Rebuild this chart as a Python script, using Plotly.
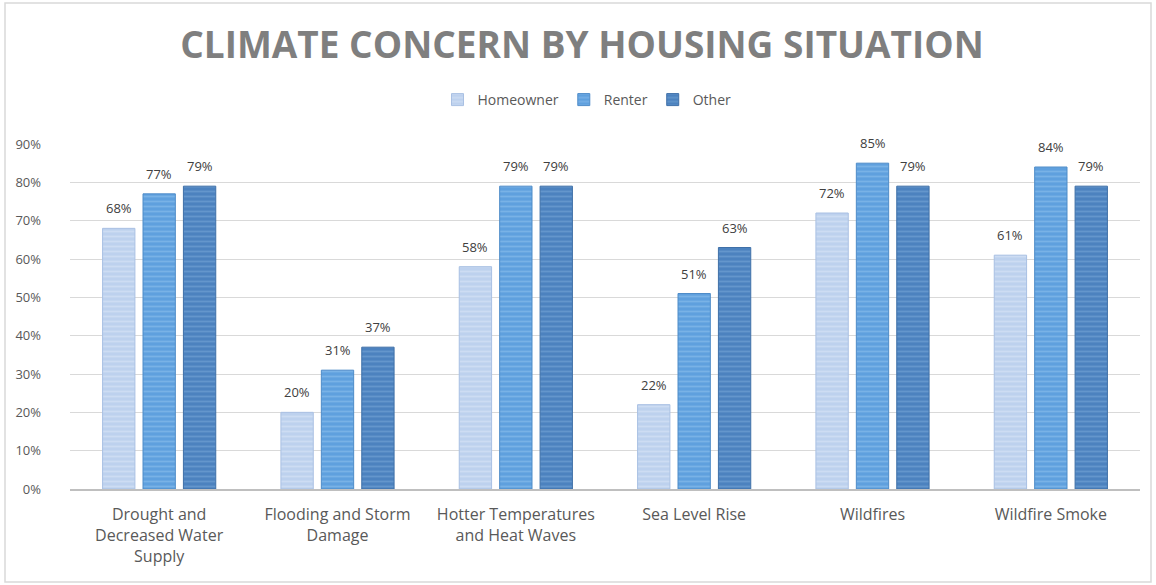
import plotly.graph_objects as go

categories = [
    "Drought and<br>Decreased Water<br>Supply",
    "Flooding and Storm<br>Damage",
    "Hotter Temperatures<br>and Heat Waves",
    "Sea Level Rise",
    "Wildfires",
    "Wildfire Smoke",
]
homeowner = [68, 20, 58, 22, 72, 61]
renter = [77, 31, 79, 51, 85, 84]
other = [79, 37, 79, 63, 79, 79]
y_ticks = [0, 10, 20, 30, 40, 50, 60, 70, 80, 90]

series = [
    ("Homeowner", homeowner, "#bdd1ee", "#dde8f7", "#a9c0e3"),
    ("Renter", renter, "#5fa0de", "#93c3ee", "#4f8cc8"),
    ("Other", other, "#4c82bf", "#7caada", "#3f70a8"),
]

FONT = "Open Sans, sans-serif"

# plot area geometry in pixels
W, H = 1156, 585
ml, mr, mt, mb = 70, 16, 144, 96
pw, ph = W - ml - mr, H - mt - mb
BARGAP = 0.32

def px_x(x):
    return (x - ml) / pw

def px_y(y):
    return (H - mb - y) / ph

fig = go.Figure()
for name, vals, base, stripe, edge in series:
    fig.add_trace(go.Bar(
        name=name,
        x=categories,
        y=vals,
        marker=dict(
            color=base,
            line=dict(color=edge, width=1),
            pattern=dict(shape="-", fgcolor=stripe, bgcolor=base, size=5, solidity=0.35),
        ),
    ))

# value labels sit a little above each bar, centred on its slot in the group
slot = pw / len(categories) * (1 - BARGAP) / len(series)
for i, (name, vals, *_rest) in enumerate(series):
    for cat, v in zip(categories, vals):
        fig.add_annotation(
            x=cat, y=v, xref="x", yref="y",
            text=f"{v}%", showarrow=False,
            xshift=(i - 1) * slot, yshift=9, yanchor="bottom",
            font=dict(size=13, color="#404040", family=FONT),
        )

fig.add_shape(
    type="rect", xref="paper", yref="paper",
    x0=px_x(5), x1=px_x(1151), y0=px_y(582), y1=px_y(3),
    line=dict(color="#d9d9d9", width=1.5), fillcolor="rgba(0,0,0,0)", layer="below",
)

fig.update_layout(
    width=W, height=H,
    margin=dict(l=ml, r=mr, t=mt, b=mb),
    paper_bgcolor="white",
    plot_bgcolor="white",
    barmode="group",
    bargap=BARGAP,
    bargroupgap=0.2,
    font=dict(family=FONT, color="#595959", size=13),
    title=dict(
        text="CLIMATE CONCERN BY HOUSING SITUATION",
        x=582 / W, xref="container", xanchor="center",
        y=1 - 45 / H, yanchor="middle",
        font=dict(size=37, color="#7f7f7f", family=FONT, weight="bold"),
    ),
    legend=dict(
        orientation="h",
        x=px_x(587), xanchor="center",
        y=px_y(100), yanchor="middle",
        font=dict(size=14, color="#595959", family=FONT),
        itemwidth=30,
        traceorder="normal",
    ),
    xaxis=dict(
        showgrid=False,
        showline=True,
        linecolor="#bfbfbf",
        linewidth=2,
        tickfont=dict(size=16, color="#595959"),
        ticks="",
        ticklabelstandoff=10,
    ),
    yaxis=dict(
        range=[0, 90],
        tickvals=y_ticks,
        ticktext=[f"{t}%" for t in y_ticks],
        showgrid=True,
        gridcolor="#d9d9d9",
        gridwidth=1,
        zeroline=False,
        tickfont=dict(size=13, color="#595959"),
        ticks="",
        ticklabelstandoff=28,
    ),
)

fig.write_html("out.html")
